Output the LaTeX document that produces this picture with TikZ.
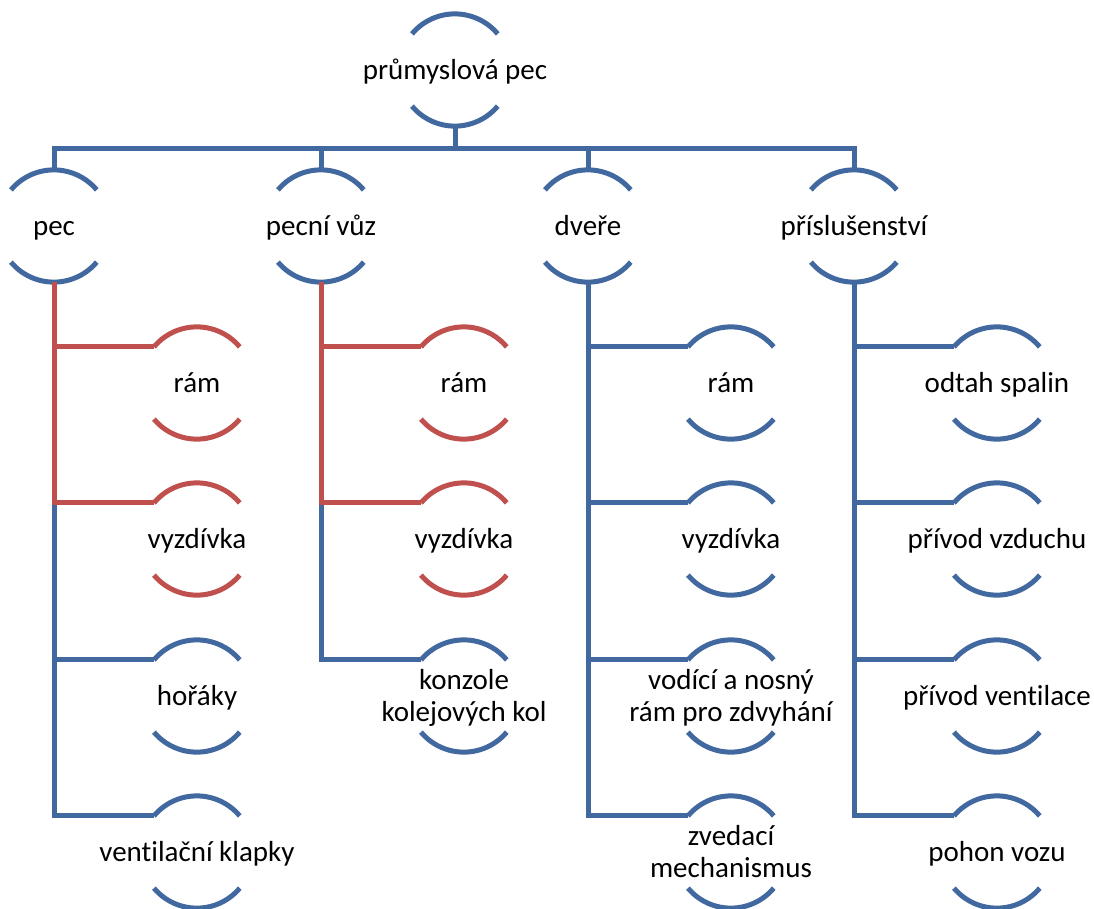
\documentclass[tikz,border=0pt]{standalone}
\usepackage{fontspec}
\setmainfont{Carlito}[Ligatures=NoCommon]
\definecolor{bl}{RGB}{66,104,160}
\definecolor{rd}{RGB}{192,80,77}
\newcommand\rings[2]{%
  \draw[#2] (#1.140) arc[start angle=140,end angle=40,radius=56pt];
  \draw[#2] (#1.220) arc[start angle=220,end angle=320,radius=56pt];}
\begin{document}
\begin{tikzpicture}[x=1pt,y=-1pt,
  ring/.style={circle,minimum size=112pt,inner sep=0pt,draw=none},
  lbl/.style={font=\fontsize{29}{32}\selectfont,align=center,inner sep=0pt,yshift=-3pt,text=black},
  bline/.style={draw=bl,line width=5pt},
  rline/.style={draw=rd,line width=5pt}]
\useasboundingbox (0,0) rectangle (1094,908);
% root
\node[ring] (top) at (455,70) {};
\node[lbl] (ttop) at (top) {průmyslová pec\strut};
% level 1
\node[ring] (pec) at (54,226) {};
\node[ring] (vuz) at (321,226) {};
\node[ring] (dv) at (588,226) {};
\node[ring] (pr) at (854,226) {};
\node[lbl] (tpec) at (pec) {pec\strut};
\node[lbl] (tvuz) at (vuz) {pecní vůz\strut};
\node[lbl] (tdv) at (dv) {dveře\strut};
\node[lbl] (tpr) at (pr) {příslušenství\strut};
% level 2
\node[ring] (a1) at (197,383) {};
\node[ring] (a2) at (197,539) {};
\node[ring] (a3) at (197,696) {};
\node[ring] (a4) at (197,852) {};
\node[ring] (b1) at (464,383) {};
\node[ring] (b2) at (464,539) {};
\node[ring] (b3) at (464,696) {};
\node[ring] (c1) at (731,383) {};
\node[ring] (c2) at (731,539) {};
\node[ring] (c3) at (731,696) {};
\node[ring] (c4) at (731,852) {};
\node[ring] (d1) at (997,383) {};
\node[ring] (d2) at (997,539) {};
\node[ring] (d3) at (997,696) {};
\node[ring] (d4) at (997,852) {};
\node[lbl] (ta1) at (a1) {rám\strut};
\node[lbl] (ta2) at (a2) {vyzdívka\strut};
\node[lbl] (ta3) at (a3) {hořáky\strut};
\node[lbl] (ta4) at (a4) {ventilační klapky\strut};
\node[lbl] (tb1) at (b1) {rám\strut};
\node[lbl] (tb2) at (b2) {vyzdívka\strut};
\node[lbl] (tb3) at (b3) {konzole\strut\\kolejových kol\strut};
\node[lbl] (tc1) at (c1) {rám\strut};
\node[lbl] (tc2) at (c2) {vyzdívka\strut};
\node[lbl] (tc3) at (c3) {vodící a nosný\strut\\rám pro zdvyhání\strut};
\node[lbl] (tc4) at (c4) {zvedací\strut\\mechanismus\strut};
\node[lbl] (td1) at (d1) {odtah spalin\strut};
\node[lbl] (td2) at (d2) {přívod vzduchu\strut};
\node[lbl] (td3) at (d3) {přívod ventilace\strut};
\node[lbl] (td4) at (d4) {pohon vozu\strut};
% rings
\foreach \n in {top,pec,vuz,dv,pr,a3,a4,b3,c1,c2,c3,c4,d1,d2,d3,d4} {\rings{\n}{bline}}
\foreach \n in {a1,a2,b1,b2} {\rings{\n}{rline}}
% top bar
\coordinate (bar) at (455,148);
\draw[bline] (top.south) -- (bar);
\draw[bline] (pec.north) -- (pec.north |- bar) -- (pr.north |- bar) -- (pr.north);
\draw[bline] (vuz.north) -- (vuz.north |- bar);
\draw[bline] (dv.north) -- (dv.north |- bar);
% branches (blue)
\draw[bline] (pec.south) |- (a4.140);
\draw[bline] (pec.south) |- (a3.140);
\draw[bline] (vuz.south) |- (b3.140);
\draw[bline] (dv.south) |- (c4.140);
\foreach \k in {c1,c2,c3} {\draw[bline] (dv.south) |- (\k.140);}
\draw[bline] (pr.south) |- (d4.140);
\foreach \k in {d1,d2,d3} {\draw[bline] (pr.south) |- (\k.140);}
% branches (red)
\draw[rline] (pec.south) |- (a2.140);
\draw[rline] (pec.south) |- (a1.140);
\draw[rline] (vuz.south) |- (b2.140);
\draw[rline] (vuz.south) |- (b1.140);
\end{tikzpicture}
\end{document}
